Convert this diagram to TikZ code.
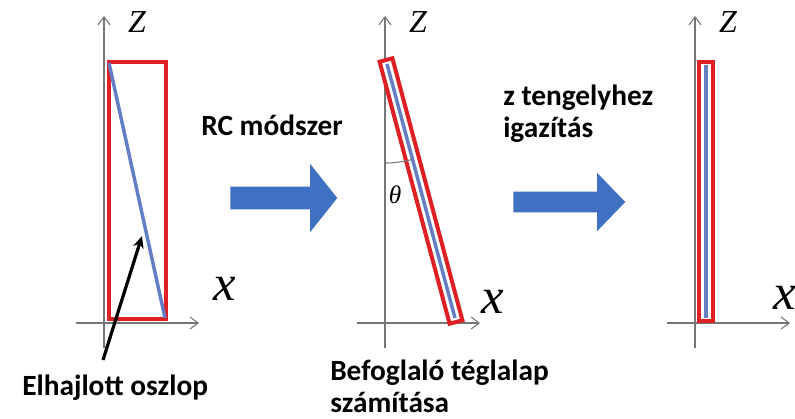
\documentclass[tikz,border=0pt]{standalone}
\usepackage{fontspec}
\setmainfont{Carlito}
\newfontfamily\axisfont{Liberation Serif}
\usetikzlibrary{arrows.meta,shapes.arrows}
\definecolor{framered}{RGB}{222,32,36}
\definecolor{columnblue}{RGB}{100,126,198}
\definecolor{arrowblue}{RGB}{64,112,194}
\definecolor{axisgray}{RGB}{118,118,118}
\tikzset{
  axis line/.style={line width=0.8pt,draw=axisgray,-{Straight Barb[length=6pt,width=9pt]}},
  axis name/.style={inner sep=0pt,font=\axisfont\itshape\fontsize{24}{24}\selectfont},
  axis x name/.style={inner sep=0pt,font=\axisfont\itshape\fontsize{38}{38}\selectfont},
  frame/.style={line width=3.5pt,draw=framered,line join=miter},
  thin frame/.style={line width=3pt,draw=framered,fill=white,line join=miter},
  column/.style={line width=2.6pt,draw=columnblue},
  pointer/.style={-{Stealth[length=9pt,width=8pt]},line width=2.4pt,draw=black},
  caption/.style={inner sep=0pt,anchor=base west,align=left,
    font=\bfseries\fontsize{22}{24}\selectfont},
  step arrow/.style={single arrow,draw=none,fill=arrowblue,anchor=tail,
    inner xsep=0pt,single arrow head indent=0pt}
}
\newcommand{\xzaxes}[4]{%
  \begin{scope}[shift={(#2,0)}]
    \coordinate (#1zb) at (0,348);
    \coordinate (#1zt) at (0,16);
    \coordinate (#1xl) at (-28,323);
    \coordinate (#1xr) at (95,323);
    \draw[axis line] (#1zb) -- (#1zt);
    \draw[axis line] (#1xl) -- (#1xr);
    \node[axis name] (#1Z) at (33,22) {Z};
    \node[axis x name] (#1X) at (#3,#4) {x};
  \end{scope}%
}

\begin{document}
\begin{tikzpicture}[x=0.75pt,y=-0.75pt]
  \useasboundingbox (0,0) rectangle (795,418);

  % panel 1: bent column
  \xzaxes{a}{104}{121}{289}
  \draw[frame] (109,62) rectangle (166,319);
  \coordinate (colatop) at (109,63);
  \coordinate (colabot) at (165,318);
  \draw[column] (colatop) -- (colabot);
  \node[caption] (bent) at (22,395) {Elhajlott oszlop};
  \coordinate (ptrfoot) at (103,360);
  \coordinate (ptrtip) at (142,236);
  \draw[pointer] (ptrfoot) -- (ptrtip);

  % step 1
  \node[caption] (rc) at (201,135) {RC módszer};
  \node[step arrow,minimum height=80.25pt,inner ysep=8.25pt,
    single arrow head extend=17.25pt,single arrow tip angle=103] (stepone) at (230,198) {};

  % panel 2: tilted bounding rectangle
  \xzaxes{b}{385}{108}{302}
  \draw[thin frame] (379.6,61.7) -- (392.4,58.3) -- (462.4,320.3) -- (449.6,323.7) -- cycle;
  \coordinate (colbtop) at (387,64);
  \coordinate (colbbot) at (455,318);
  \draw[column] (colbtop) -- (colbbot);
  \coordinate (thetastart) at (385,163);
  \draw[line width=0.8pt,draw=axisgray] (thetastart) arc[start angle=90,end angle=75,radius=105];
  \node[inner sep=0pt,font=\axisfont\itshape\fontsize{19}{19}\selectfont] (theta) at (395,195) {θ};
  \node[caption] (bbox) at (330,412) {Befoglaló téglalap\\számítása};

  % step 2
  \node[caption] (align) at (503,137) {z tengelyhez\\igazítás};
  \node[step arrow,minimum height=84pt,inner ysep=7.5pt,
    single arrow head extend=14.25pt,single arrow tip angle=92] (steptwo) at (513,202) {};

  % panel 3: aligned column
  \xzaxes{c}{695}{90}{298}
  \draw[thin frame] (699,62) rectangle (713,321);
  \coordinate (colctop) at (706,65);
  \coordinate (colcbot) at (706,318);
  \draw[column] (colctop) -- (colcbot);

\end{tikzpicture}
\end{document}
